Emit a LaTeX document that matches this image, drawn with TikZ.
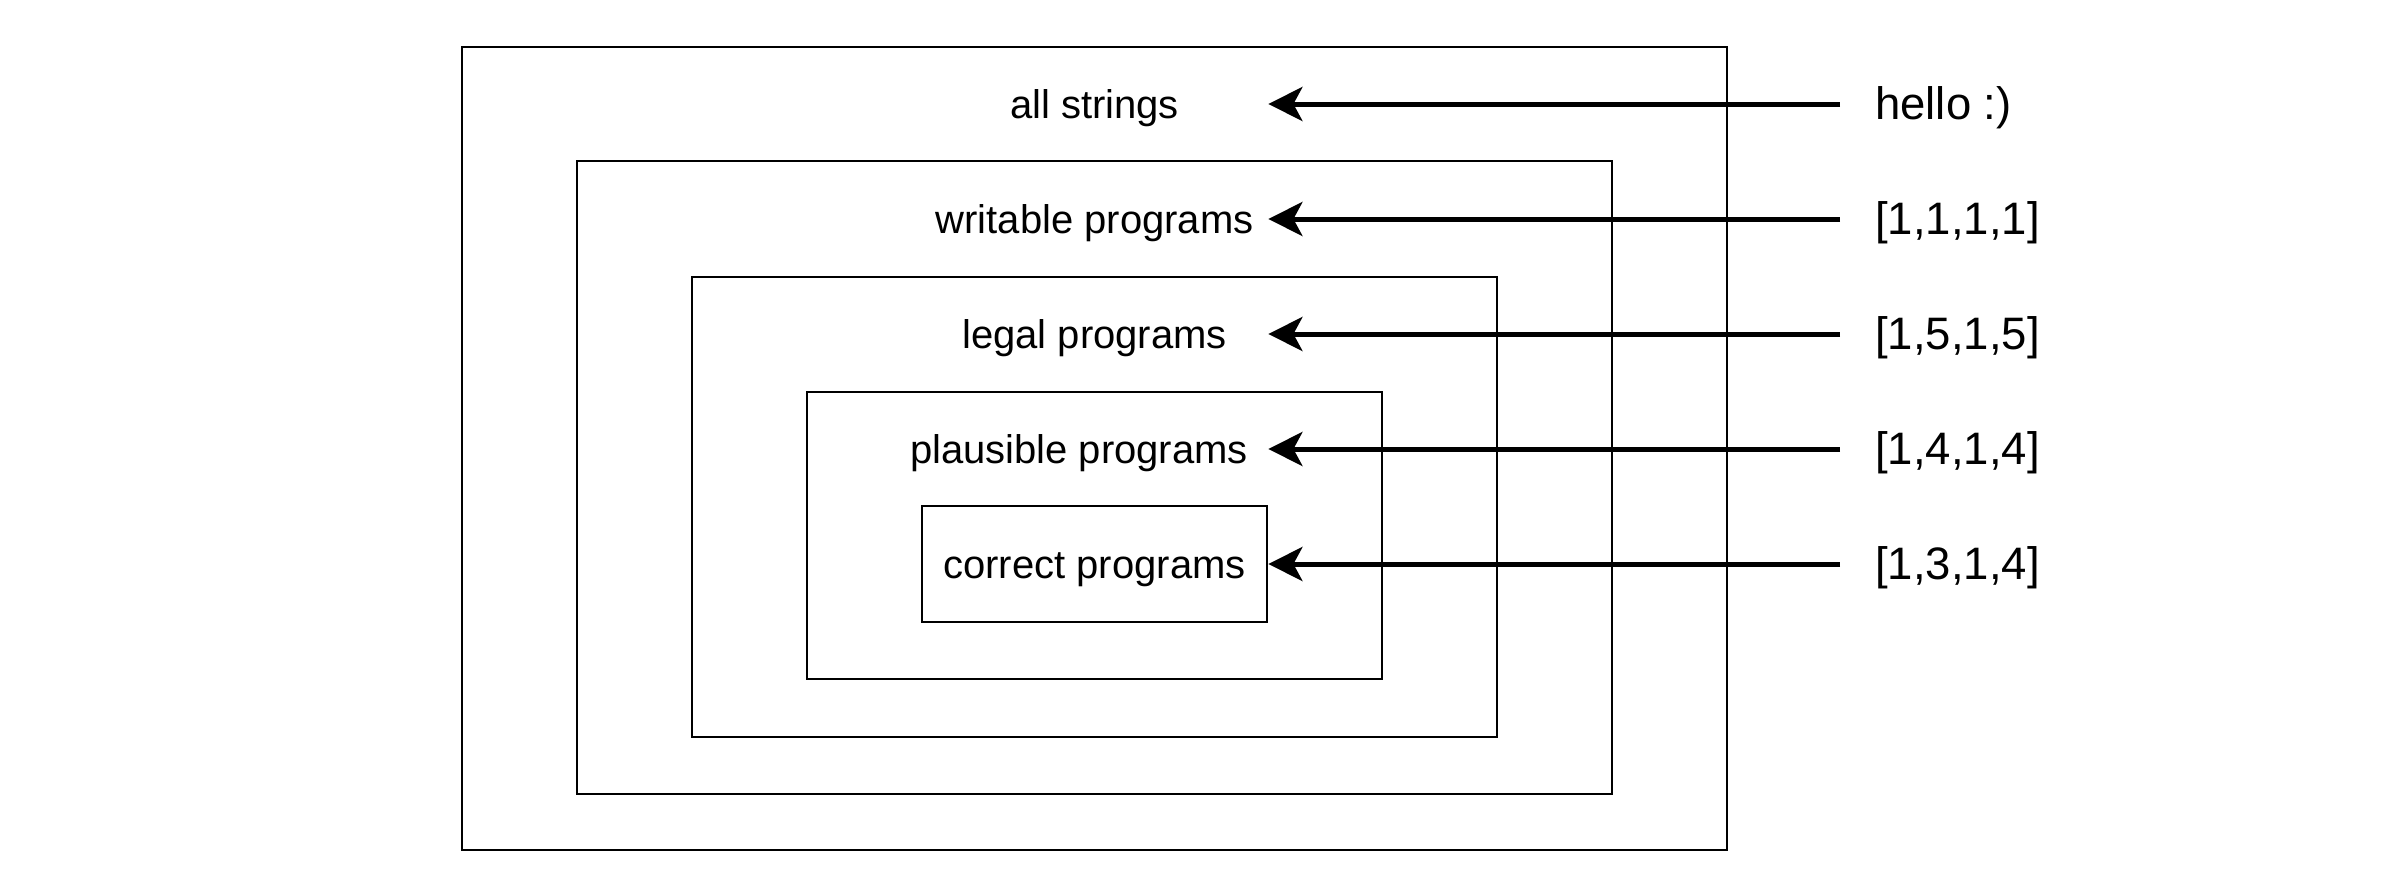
\documentclass[tikz,border=0pt]{standalone}
\usepackage{fontspec}
\setmainfont{Liberation Sans}
\usetikzlibrary{arrows.meta}
\begin{document}
\begin{tikzpicture}[x=1pt,y=-1pt,
  setbox/.style={draw=black, line width=2.8pt, rectangle, inner sep=0pt},
  lbl/.style={font=\fontsize{40}{48}\selectfont, inner sep=0pt, text height=37pt, text depth=8.4pt},
  val/.style={font=\fontsize{45.5}{54}\selectfont, anchor=west, inner ysep=0pt, inner xsep=35pt, text height=40.5pt, text depth=9.5pt},
  arr/.style={line width=5pt, -{Stealth[length=34pt,width=34pt,inset=9pt]}}]
\useasboundingbox (0,0) rectangle (2402,892);
% nested boxes
\node[setbox, minimum width=1265pt, minimum height=803pt] (b1) at (1094.5,448.5) {};
\node[setbox, minimum width=1035pt, minimum height=633pt] (b2) at (1094.5,477.5) {};
\node[setbox, minimum width=805pt, minimum height=460pt] (b3) at (1094.5,507) {};
\node[setbox, minimum width=575pt, minimum height=287pt] (b4) at (1094.5,535.5) {};
\node[setbox, minimum width=345pt, minimum height=116pt] (b5) at (1094.5,564) {};
% labels
\node[lbl] (l1) at (1094.5,104) {all strings};
\node[lbl] (l2) at (1094.5,219) {writable programs};
\node[lbl] (l3) at (1094.5,334) {legal programs};
\node[lbl] (l4) at (1079,449) {plausible programs};
\node[lbl] (l5) at (1094.5,564) {correct programs};
% values
\node[val] (v1) at (1840,104) {hello :)};
\node[val] (v2) at (1840,219) {[1,1,1,1]};
\node[val] (v3) at (1840,334) {[1,5,1,5]};
\node[val] (v4) at (1840,449) {[1,4,1,4]};
\node[val] (v5) at (1840,564) {[1,3,1,4]};
% arrows
\draw[arr] (v1.west) -- (v1.west -| b5.east);
\draw[arr] (v2.west) -- (v2.west -| b5.east);
\draw[arr] (v3.west) -- (v3.west -| b5.east);
\draw[arr] (v4.west) -- (v4.west -| b5.east);
\draw[arr] (v5.west) -- (v5.west -| b5.east);
\end{tikzpicture}
\end{document}
